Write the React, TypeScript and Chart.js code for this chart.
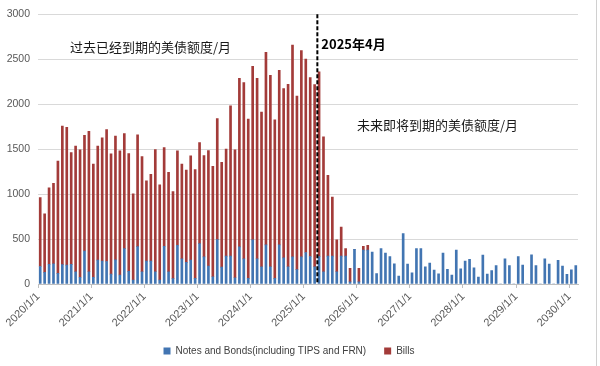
import React, { useEffect, useRef } from "react";
import { Chart, registerables } from "chart.js";

Chart.register(...registerables);

// Monthly categories 2020/1/1 .. 2030/2/1
const firstYear = 2020;
const monthCount = 122;
const categories: string[] = [];
for (let i = 0; i < monthCount; i++) {
  categories.push(`${firstYear + Math.floor(i / 12)}/${(i % 12) + 1}/1`);
}

const notesAndBonds: number[] = [
  195, 130, 220, 225, 118, 215, 210, 218, 136, 75, 367, 136,
  75, 265, 256, 250, 110, 269, 100, 394, 140, 44, 415, 136,
  255, 255, 136, 44, 420, 136, 60, 431, 280, 240, 265, 63,
  450, 302, 200, 81, 494, 188, 310, 310, 70, 413, 280, 63,
  490, 280, 192, 435, 192, 63, 435, 290, 192, 302, 160, 302,
  350, 306, 192, 306, 136, 310, 310, 136, 310, 310, 25, 387,
  25, 376, 376, 355, 115, 394, 345, 306, 225, 88, 560, 221,
  125, 394, 394, 192, 232, 155, 113, 345, 162, 100, 376, 168,
  254, 275, 179, 78, 321, 111, 150, 206, 0, 280, 206, 0,
  306, 210, 0, 324, 206, 0, 280, 221, 0, 262, 199, 107,
  159, 206,
];

const bills: number[] = [
  767, 651, 849, 896, 1250, 1543, 1533, 1245, 1397, 1418, 1288, 1563,
  1259, 1268, 1369, 1468, 1339, 1375, 1382, 1279, 1310, 959, 1244, 1280,
  893, 965, 1359, 1058, 1097, 1107, 969, 1049, 1053, 1028, 1160, 1209,
  1124, 1127, 1283, 1228, 1346, 1165, 1192, 1673, 1423, 1875, 1960, 1771,
  1930, 2008, 1721, 2142, 2130, 1762, 1942, 1883, 2028, 2355, 1930, 2294,
  2153, 1991, 2027, 2054, 1501, 898, 656, 354, 324, 85, 148, 0,
  148, 44, 55,
];

const yTicks: number[] = [0, 500, 1000, 1500, 2000, 2500, 3000];
const markerCategory = "2025/4/1";
const markerLabel = "2025年4月";
const pastLabel = "过去已经到期的美债额度/月";
const futureLabel = "未来即将到期的美债额度/月";
const seriesNames = ["Notes and Bonds(including TIPS and FRN)", "Bills"];

const annotationPlugin = {
  id: "annotations",
  afterDatasetsDraw(chart: any) {
    const { ctx, chartArea, scales } = chart;
    const xs = scales.x;
    const idx = categories.indexOf(markerCategory);
    const px = (xs.getPixelForValue(idx - 1) + xs.getPixelForValue(idx)) / 2 + 0.5;
    ctx.save();
    ctx.strokeStyle = "#000";
    ctx.lineWidth = 2;
    ctx.setLineDash([4, 2]);
    ctx.beginPath();
    ctx.moveTo(px, chartArea.top);
    ctx.lineTo(px, chartArea.bottom);
    ctx.stroke();
    ctx.setLineDash([]);
    ctx.textBaseline = "middle";
    ctx.textAlign = "left";
    ctx.fillStyle = "#1a1a1a";
    ctx.font = '13px "Noto Sans CJK SC"';
    ctx.fillText(pastLabel, 70, 47);
    ctx.fillText(futureLabel, 357, 125);
    ctx.fillStyle = "#000";
    ctx.font = 'bold 13px "Noto Sans CJK SC"';
    ctx.fillText(markerLabel, px + 4, 44);
    ctx.restore();
  },
};

export default function App() {
  const ref = useRef<HTMLCanvasElement | null>(null);
  useEffect(() => {
    if (!ref.current) return;
    const chart = new Chart(ref.current, {
      type: "bar",
      data: {
        labels: categories,
        datasets: [
          {
            label: seriesNames[0],
            data: notesAndBonds,
            backgroundColor: "#4275B2",
            barThickness: 2,
          },
          {
            label: seriesNames[1],
            data: bills,
            backgroundColor: "#A33B39",
            barThickness: 2,
          },
        ],
      },
      options: {
        animation: false,
        responsive: false,
        maintainAspectRatio: false,
        layout: { padding: { top: 12, right: 22, left: 0, bottom: 0 } },
        plugins: {
          legend: {
            position: "bottom",
            labels: {
              boxWidth: 7,
              boxHeight: 7,
              padding: 18,
              color: "#404040",
              font: { size: 10, family: "Liberation Sans" },
            },
          },
          tooltip: { enabled: false },
        },
        scales: {
          x: {
            stacked: true,
            offset: true,
            afterFit: (s: any) => {
              s.height = 44;
            },
            grid: {
              drawOnChartArea: false,
              drawTicks: true,
              tickLength: 4,
              offset: true,
              color: (c: any) => (c.index % 12 === 0 ? "#bfbfbf" : "rgba(0,0,0,0)"),
            },
            border: { display: true, color: "#bfbfbf" },
            ticks: {
              autoSkip: false,
              maxRotation: 45,
              minRotation: 45,
              labelOffset: -2,
              padding: 2,
              color: "#595959",
              font: { size: 11, family: "Liberation Sans" },
              callback: (v: any, i: number) => (i % 12 === 0 ? categories[i] : ""),
            },
          },
          y: {
            stacked: true,
            min: yTicks[0],
            max: yTicks[yTicks.length - 1],
            afterFit: (s: any) => {
              s.width = 38;
            },
            afterBuildTicks: (s: any) => {
              s.ticks = yTicks.map((v) => ({ value: v }));
            },
            grid: { color: "#d9d9d9", drawTicks: false },
            border: { display: false },
            ticks: {
              padding: 8,
              color: "#595959",
              font: { size: 10.5, family: "Liberation Sans" },
              callback: (v: any) => String(v),
            },
          },
        },
      },
      plugins: [annotationPlugin],
    });
    return () => chart.destroy();
  }, []);
  return (
    <div style={{ position: "fixed", left: 0, top: 0, width: 600, height: 366, background: "#fff" }}>
      <canvas ref={ref} width={600} height={366} style={{ width: 600, height: 366 }} />
      <div style={{ position: "absolute", right: 3, top: 0, width: 1, height: 366, background: "#d0d0d0" }} />
    </div>
  );
}
